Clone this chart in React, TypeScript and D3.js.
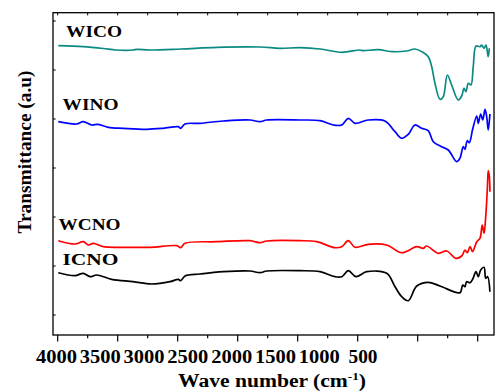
import React from "react";
import * as d3 from "d3";

// [wavenumber (cm-1), transmittance (a.u.)]
const WICO: [number, number][] = [
  [3995, 289.3], [3787, 288.3], [3620, 286.5], [3514, 285], [3372, 285], [3339, 285.7], [3231, 285],
  [2975, 286], [2672, 287.7], [2314, 288], [2148, 286.7], [1981, 287.3], [1814, 286],
  [1633, 282.7], [1481, 285], [1456, 284.3], [1331, 285.3], [1206, 283.3], [1092, 284],
  [1023, 286], [960, 283], [912, 278.3], [883, 268.3], [856, 251.7], [814, 235.7], [787, 238.3],
  [753, 260], [717, 250], [662, 235], [633, 239], [614, 246.7], [598, 243.3],
  [578, 251.7], [556, 250], [537, 268.3], [514, 289], [481, 288.3], [467, 290],
  [447, 286.7], [431, 290], [412, 278.3], [403, 286.7],
];

const WINO: [number, number][] = [
  [3995, 213.3], [3842, 211], [3787, 213.3], [3717, 210], [3662, 210.7], [3578, 207.7],
  [3453, 206.7], [3258, 205.7], [3120, 206.7], [2995, 208.3], [2975, 206.7], [2939, 211],
  [2814, 211.7], [2620, 214], [2398, 215], [2314, 213.3], [2258, 215], [1981, 215],
  [1814, 214.3], [1703, 210], [1633, 210], [1578, 216.7], [1522, 211.7], [1412, 215],
  [1273, 214], [1189, 203.3], [1133, 196.7], [1078, 200.7], [1023, 210], [967, 206.7],
  [912, 204.3], [870, 193.3], [800, 188.3], [745, 185], [675, 173.3], [648, 176.7],
  [620, 188.3], [606, 185.7], [587, 194.3], [570, 192.3], [542, 205.7], [508, 219],
  [495, 211.7], [475, 221], [458, 215], [439, 225.7], [425, 218.3], [412, 205], [398, 221],
];

const WCNO: [number, number][] = [
  [3995, 94.3], [3856, 91], [3787, 93.3], [3745, 90], [3703, 91.7], [3620, 88.3],
  [3453, 87.7], [3231, 87.7], [3008, 89.3], [2975, 87.3], [2939, 91.7], [2675, 93.3],
  [2398, 94.3], [2314, 92.3], [2258, 94], [1981, 94.3], [1842, 93.3], [1689, 87.3],
  [1633, 88.3], [1578, 94.3], [1522, 87.7], [1412, 90.7], [1258, 90], [1133, 82.3],
  [1008, 88.3], [953, 86.7], [925, 89], [828, 81.7], [758, 84], [683, 76.7], [633, 79],
  [606, 85], [587, 82.3], [564, 88.3], [542, 83.3], [508, 93.3], [481, 96.7],
  [462, 110], [447, 101.7], [433, 118.3], [420, 145], [412, 164.3], [403, 158.3], [398, 143.3],
];

const ICNO: [number, number][] = [
  [3995, 62.3], [3856, 59.3], [3787, 61.7], [3731, 58.3], [3675, 60], [3550, 55.7],
  [3372, 53.3], [3217, 51], [3064, 53.3], [2995, 55.7], [2975, 54.3], [2939, 59],
  [2814, 61], [2620, 63.3], [2398, 64], [2314, 62.3], [2258, 64], [1981, 64.3],
  [1814, 63.3], [1689, 58.3], [1633, 58.3], [1578, 64.3], [1514, 58.3], [1425, 63.3],
  [1258, 61.7], [1189, 48.3], [1133, 38.3], [1078, 34.3], [1008, 49], [912, 52.7],
  [814, 49], [648, 42.3], [625, 50], [606, 48.3], [592, 53.3], [564, 52.3], [542, 55.7],
  [514, 63.3], [495, 58.3], [475, 65], [447, 67.7], [433, 56.7], [417, 58.3], [398, 43.3],
];

const seriesNames = ["WICO", "WINO", "WCNO", "ICNO"];
const seriesColors = ["#0b8a82", "#0000ff", "#ff0000", "#000000"];
const seriesData = [WICO, WINO, WCNO, ICNO];
const seriesLabelPos: [number, number][] = [
  [66, 37], [62.5, 110], [58.5, 230], [62.5, 265],
];
const seriesLabelWidth = [56, 56, 62, 56];

const xMajorTicks = [4000, 3500, 3000, 2500, 2000, 1500, 1000, 500];
const xMinorTicks = [3750, 3250, 2750, 2250, 1750, 1250, 750];
const xTopTicks = d3.range(4000, 399, -250);
const xTickLabels = ["4000", "3500", "3000", "2500", "2000", "1500", "1000", "500"];
const yTicks = [20, 69, 118, 167, 216, 265, 314];

const W = 496;
const H = 392;
const L = 53, R = 494, T = 12.7, B = 335;

export default function App() {
  const x = d3.scaleLinear().domain([4039, 364]).range([L, R]);
  const y = d3.scaleLinear().domain([0, 322.3]).range([B, T]);
  const labelX = d3.scaleLinear().domain([0, xTickLabels.length - 1]).range([56.5, 363]);
  const line = d3
    .line<[number, number]>()
    .x((d) => x(d[0]))
    .y((d) => y(d[1]))
    .curve(d3.curveCatmullRom.alpha(0.5));

  const font = "'Liberation Serif', 'Times New Roman', serif";

  return (
    <svg
      width={W}
      height={H}
      style={{ position: "absolute", left: 0, top: 0, background: "#fff" }}
      fontFamily={font}
    >
      <rect x={0} y={0} width={W} height={H} fill="#fff" />
      {seriesData.map((d, i) => (
        <path
          key={seriesNames[i]}
          d={line(d) || ""}
          fill="none"
          stroke={seriesColors[i]}
          strokeWidth={1.7}
          strokeLinejoin="round"
        />
      ))}
      {seriesNames.map((n, i) => (
        <text
          key={n}
          x={seriesLabelPos[i][0]}
          y={seriesLabelPos[i][1]}
          fontSize={16}
          fontWeight="bold"
          textLength={seriesLabelWidth[i]}
          lengthAdjust="spacingAndGlyphs"
        >
          {n}
        </text>
      ))}
      {/* frame */}
      <rect x={L} y={T} width={R - L} height={B - T} fill="none" stroke="#000" strokeWidth={1.3} />
      {/* bottom ticks */}
      {xMajorTicks.map((t) => (
        <line key={"M" + t} x1={x(t)} x2={x(t)} y1={B} y2={B + 6.5} stroke="#000" strokeWidth={1.2} />
      ))}
      {xMinorTicks.map((t) => (
        <line key={"m" + t} x1={x(t)} x2={x(t)} y1={B} y2={B + 3.3} stroke="#000" strokeWidth={1.2} />
      ))}
      {/* top ticks */}
      {xTopTicks.map((t) => (
        <line key={"t" + t} x1={x(t)} x2={x(t)} y1={T} y2={T + 2.7} stroke="#000" strokeWidth={1} />
      ))}
      {/* left ticks */}
      {yTicks.map((t) => (
        <line key={"y" + t} x1={L} x2={L + 2.7} y1={y(t)} y2={y(t)} stroke="#000" strokeWidth={1} />
      ))}
      {/* x tick labels */}
      {xTickLabels.map((s, i) => (
        <text
          key={s}
          x={labelX(i)}
          y={363}
          textAnchor="middle"
          fontSize={18}
          fontWeight="bold"
          textLength={s.length === 4 ? 41 : 29}
          lengthAdjust="spacingAndGlyphs"
        >
          {s}
        </text>
      ))}
      {/* x axis title */}
      <text
        x={178}
        y={387}
        fontSize={18}
        fontWeight="bold"
        textLength={188}
        lengthAdjust="spacingAndGlyphs"
      >
        Wave number (cm<tspan dy={-7} fontSize={11}>-1</tspan>
        <tspan dy={7} fontSize={18}>)</tspan>
      </text>
      {/* y axis title */}
      <text
        transform="translate(31,152) rotate(-90)"
        textAnchor="middle"
        fontSize={19}
        fontWeight="bold"
        textLength={163}
        lengthAdjust="spacingAndGlyphs"
      >
        Transmittance (a.u)
      </text>
    </svg>
  );
}
